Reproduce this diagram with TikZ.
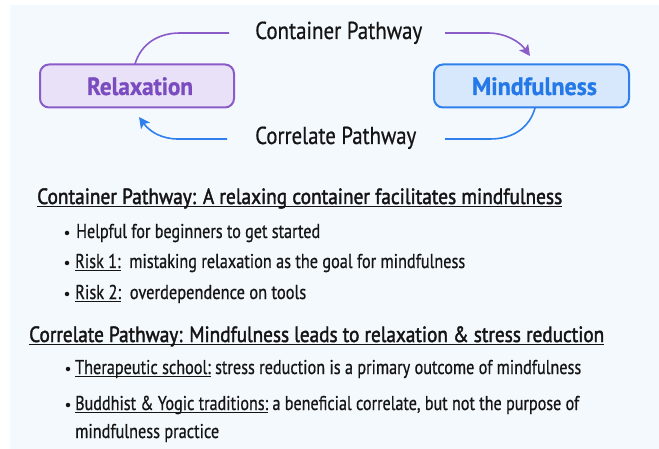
\documentclass[tikz,border=0pt]{standalone}
\usepackage{fontspec}
\usepackage{graphicx}
\setmainfont[FakeBold=0.7]{PT Sans}[BoldFont={PT Sans Bold}]
\newfontfamily\headfont[FakeBold=2]{PT Sans}
\usetikzlibrary{arrows.meta}
\definecolor{bgcol}{HTML}{F4F9FE}
\definecolor{relfill}{HTML}{E9E1F8}
\definecolor{reldraw}{HTML}{8B5CC8}
\definecolor{reltext}{HTML}{7A4CBF}
\definecolor{mindfill}{HTML}{D7E8FC}
\definecolor{minddraw}{HTML}{2F80ED}
\definecolor{mindtext}{HTML}{2478E8}
\definecolor{ink}{HTML}{151515}
\newcommand\myul[1]{\setbox0\hbox{#1}\rlap{\rule[-2.8pt]{\wd0}{0.8pt}}\box0\relax}
\newcommand\fitto[2]{\resizebox{#1}{\height}{#2}}
\tikzset{
  boxnode/.style={rounded corners=9pt, line width=2pt, minimum width=194pt, minimum height=43pt, inner sep=0pt, text depth=0pt},
  toplabel/.style={font=\fontsize{24.5}{26}\selectfont, text=ink, inner sep=0pt, anchor=base west},
  headtext/.style={font=\headfont\fontsize{22}{24}\selectfont, text=ink, inner sep=0pt, anchor=base west},
  bultext/.style={font=\fontsize{20}{22}\selectfont, text=ink, inner sep=0pt, anchor=base west},
  dotnode/.style={circle, fill=ink, inner sep=0pt, minimum size=4.5pt},
  purpleline/.style={draw=reldraw, line width=1.6pt},
  blueline/.style={draw=minddraw, line width=1.6pt},
  tip/.style={-{Stealth[length=11pt,width=11pt,inset=2.5pt]}}
}
\begin{document}
\begin{tikzpicture}[x=1pt,y=-1pt]
\useasboundingbox (0,0) rectangle (659,449);
\fill[bgcol] (10,5) rectangle (659,449);
% boxes
\node[boxnode, draw=reldraw, fill=relfill] (rel) at (137,86) {};
\node[font=\bfseries\fontsize{25}{27}\selectfont, text=reltext, inner sep=0pt, anchor=base] (reltxt) at (140,95) {\fitto{106pt}{Relaxation}};
\node[boxnode, draw=minddraw, fill=mindfill, minimum width=195pt] (mind) at (531.5,86) {};
\node[font=\bfseries\fontsize{25}{27}\selectfont, text=mindtext, inner sep=0pt, anchor=base] (mindtxt) at (534.5,95) {\fitto{125pt}{Mindfulness}};
% pathway labels
\node[toplabel] (cp) at (255,39) {\fitto{167pt}{Container Pathway}};
\node[toplabel] (rp) at (255,144) {\fitto{161pt}{Correlate Pathway}};
% connectors
\coordinate (a1) at (135,64);
\coordinate (a2) at (229,33);
\coordinate (b1) at (445,33);
\coordinate (b2) at (530,56);
\coordinate (c1) at (535,108);
\coordinate (c2) at (445,139);
\coordinate (d1) at (227,139);
\coordinate (d2) at (139,117);
\draw[purpleline] (a1) .. controls (141,44) and (158,33) .. (180,33) -- (a2);
\draw[purpleline, tip] (b1) -- (488,33) .. controls (506,33) and (520,42) .. (b2);
\draw[blueline] (c1) .. controls (530,126) and (515,139) .. (490,139) -- (c2);
\draw[blueline, tip] (d1) -- (178,139) .. controls (162,139) and (150,132) .. (d2);
% section 1
\node[headtext] (h1) at (37,204) {\fitto{525pt}{\myul{Container Pathway: A relaxing container facilitates mindfulness}}};
\node[dotnode] (b11) at (67,233) {};
\node[bultext] (t11) at (76,238) {\fitto{244pt}{Helpful for beginners to get started}};
\node[dotnode] (b12) at (67,263) {};
\node[bultext] (t12) at (75,268) {\fitto{390pt}{\myul{Risk 1:}\ \ mistaking relaxation as the goal for mindfulness}};
\node[dotnode] (b13) at (67,294) {};
\node[bultext] (t13) at (75,299) {\fitto{231pt}{\myul{Risk 2:}\ \ overdependence on tools}};
% section 2
\node[headtext] (h2) at (29,342) {\fitto{575pt}{\myul{Correlate Pathway: Mindfulness leads to relaxation \& stress reduction}}};
\node[dotnode] (b21) at (68,369) {};
\node[bultext] (t21) at (75,374) {\fitto{506pt}{\myul{Therapeutic school:} stress reduction is a primary outcome of mindfulness}};
\node[dotnode] (b22) at (68,405) {};
\node[bultext] (t22) at (75,410) {\fitto{504pt}{\myul{Buddhist \& Yogic traditions:} a beneficial correlate, but not the purpose of}};
\node[bultext] (t23) at (75,438) {\fitto{144pt}{mindfulness practice}};
\end{tikzpicture}
\end{document}
